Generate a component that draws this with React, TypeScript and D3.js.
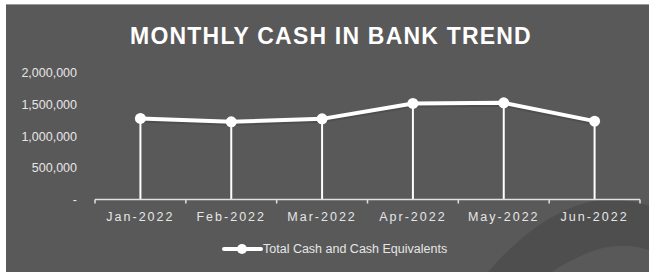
import React from 'react';
import * as d3 from 'd3';

const months = ['Jan-2022', 'Feb-2022', 'Mar-2022', 'Apr-2022', 'May-2022', 'Jun-2022'];
const cashValues = [1281000, 1228000, 1275000, 1519000, 1528000, 1239000];
const yTicks = [0, 500000, 1000000, 1500000, 2000000];
const seriesName = 'Total Cash and Cash Equivalents';

const W = 649;
const H = 272;

const App = () => {
  // category axis spans the plot, one band per month
  const x = d3.scaleBand().domain(months).range([95, 640]);
  const y = d3.scaleLinear().domain([0, 2000000]).range([199.5, 73]);

  const line = d3
    .line<number>()
    .x((d, i) => x(months[i])! + x.bandwidth() / 2)
    .y(d => y(d));

  const fmt = (v: number) => (v === 0 ? '-' : d3.format(',')(v));
  const bounds = [...months.map(m => x(m)!), 640];

  return (
    <svg
      width={W}
      height={H}
      style={{ position: 'fixed', left: 0, top: 0 }}
      fontFamily="'Liberation Sans', Arial, sans-serif"
    >
      <rect x={0} y={0} width={W} height={H} fill="#ffffff" />
      <rect x={6} y={4} width={W - 6} height={H - 4} fill="#595959" />
      <line x1={6} x2={W} y1={4.5} y2={4.5} stroke="#9a9a9a" strokeWidth={1} />

      {/* decorative swoosh bottom right */}
      <path
        d="M488,272 C520,235 560,205 600,200 C620,198 640,202 649,206 L649,250 C630,244 610,244 590,252 C575,258 562,265 552,272 Z"
        fill="#4e4e4e"
      />

      <text
        x={331}
        y={44}
        textAnchor="middle"
        fill="#ffffff"
        fontSize={23}
        fontWeight="bold"
        letterSpacing={1.2}
      >
        MONTHLY CASH IN BANK TREND
      </text>

      {/* y axis labels */}
      {yTicks.map(t => (
        <text
          key={t}
          x={77}
          y={y(t)}
          dy="0.35em"
          textAnchor="end"
          fill="#e6e6e6"
          fontSize={12.5}
        >
          {fmt(t)}
        </text>
      ))}

      {/* drop lines */}
      {cashValues.map((v, i) => {
        const cx = x(months[i])! + x.bandwidth() / 2;
        return (
          <line key={i} x1={cx} x2={cx} y1={y(v)} y2={y(0)} stroke="#ffffff" strokeWidth={2} />
        );
      })}

      {/* x axis */}
      <line x1={95} x2={640} y1={y(0)} y2={y(0)} stroke="#e0e0e0" strokeWidth={1.5} />
      {bounds.map((b, i) => (
        <line key={i} x1={b} x2={b} y1={y(0)} y2={y(0) + 4} stroke="#e0e0e0" strokeWidth={1.5} />
      ))}
      {months.map(m => (
        <text
          key={m}
          x={x(m)! + x.bandwidth() / 2}
          y={221}
          textAnchor="middle"
          fill="#e6e6e6"
          fontSize={12.5}
          letterSpacing={2}
        >
          {m}
        </text>
      ))}

      {/* series */}
      <path d={line(cashValues)!} fill="none" stroke="#3f3f3f" strokeWidth={5} strokeOpacity={0.4} transform="translate(0,1.5)" />
      <path d={line(cashValues)!} fill="none" stroke="#ffffff" strokeWidth={4} strokeLinejoin="round" />
      {cashValues.map((v, i) => (
        <circle key={i} cx={x(months[i])! + x.bandwidth() / 2} cy={y(v)} r={5.5} fill="#ffffff" />
      ))}

      {/* legend */}
      <line x1={224} x2={261} y1={249} y2={249} stroke="#ffffff" strokeWidth={4} strokeLinecap="round" />
      <circle cx={242} cy={249} r={5} fill="#ffffff" />
      <text x={263} y={249} dy="0.35em" fill="#e6e6e6" fontSize={12.5}>
        {seriesName}
      </text>
    </svg>
  );
};

export default App;
